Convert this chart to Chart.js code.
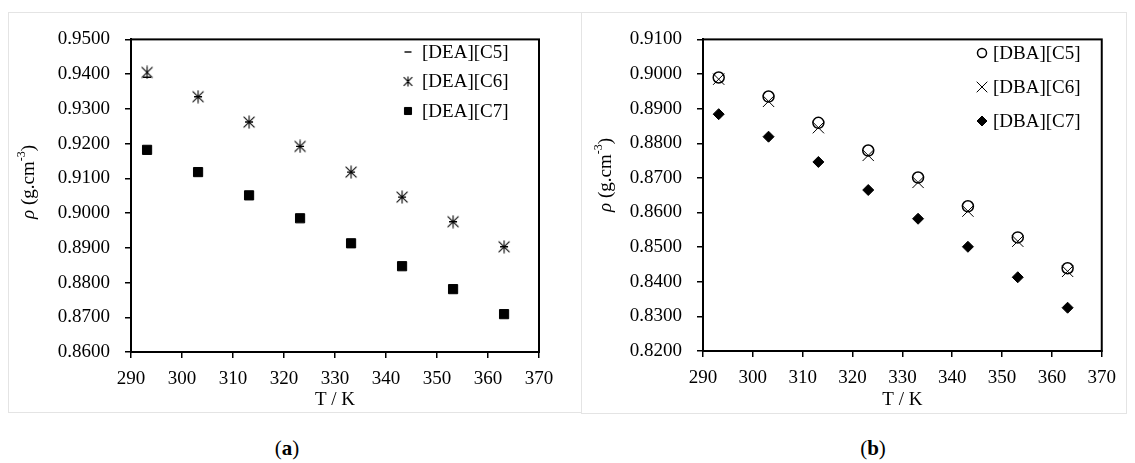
<!DOCTYPE html>
<html>
<head>
<meta charset="utf-8">
<title>Densidad vs T</title>
<script src="https://cdn.jsdelivr.net/npm/chart.js@4.4.1/dist/chart.umd.min.js"></script>
<style>
    html, body { margin: 0; padding: 0; background: #fff; }
    body { width: 1135px; height: 463px; position: relative; overflow: hidden; font-family: "Liberation Serif", serif; }
    .panel { position: absolute; border: 1px solid #e4e4e4; }
    #panelA { left: 8px; top: 12px; width: 572px; height: 399px; }
    #panelB { left: 581px; top: 12px; width: 544px; height: 400px; }
    .panel canvas { display: block; }
    .caption { position: absolute; top: 436px; width: 60px; text-align: center; font-size: 21px; color: #000; }
</style>
</head>
<body>
<div class="panel" id="panelA"><canvas id="chartA" width="572" height="399"></canvas></div>
<div class="panel" id="panelB"><canvas id="chartB" width="544" height="400"></canvas></div>
<div class="caption" style="left:257px">(<b>a</b>)</div>
<div class="caption" style="left:843px">(<b>b</b>)</div>

<script>
// Datos (T en K, densidad en g/cm3)
const TEMPS = [293.15, 303.15, 313.15, 323.15, 333.15, 343.15, 353.15, 363.15];
const X_TICKS = [290, 300, 310, 320, 330, 340, 350, 360, 370];
const Y_TICKS_A = [0.86, 0.87, 0.88, 0.89, 0.90, 0.91, 0.92, 0.93, 0.94, 0.95];
const Y_TICKS_B = [0.82, 0.83, 0.84, 0.85, 0.86, 0.87, 0.88, 0.89, 0.90, 0.91];

const LABELS_A = ['[DEA][C5]', '[DEA][C6]', '[DEA][C7]'];
const DEA_C5 = [0.9391, 0.9335, 0.9262, 0.9192, 0.9118, 0.9046, 0.8975, 0.8903];
const DEA_C6 = [0.9405, 0.9335, 0.9262, 0.9192, 0.9118, 0.9046, 0.8975, 0.8903];
const DEA_C7 = [0.9182, 0.9118, 0.9051, 0.8985, 0.8913, 0.8847, 0.8781, 0.8709];

const LABELS_B = ['[DBA][C5]', '[DBA][C6]', '[DBA][C7]'];
const DBA_C5 = [0.8990, 0.8935, 0.8859, 0.8779, 0.8701, 0.8618, 0.8528, 0.8439];
const DBA_C6 = [0.8985, 0.8921, 0.8845, 0.8765, 0.8687, 0.8604, 0.8517, 0.8430];
const DBA_C7 = [0.8884, 0.8819, 0.8746, 0.8665, 0.8582, 0.8501, 0.8413, 0.8325];

const FONT = '"Liberation Serif", serif';

// marcador tipo Excel: X con barra vertical
function makeAsterisk(size) {
    const c = document.createElement('canvas');
    c.width = size;
    c.height = size;
    const g = c.getContext('2d');
    const m = size / 2, a = size * 0.39, v = size / 2 - 0.5;
    g.strokeStyle = '#000';
    g.lineWidth = 1.1;
    g.beginPath();
    g.moveTo(m - a, m - a); g.lineTo(m + a, m + a);
    g.moveTo(m + a, m - a); g.lineTo(m - a, m + a);
    g.moveTo(m, m - v); g.lineTo(m, m + v);
    g.stroke();
    return c;
}

function toPoints(values) {
    return values.map((y, i) => ({ x: TEMPS[i], y: y }));
}

// leyenda dentro del área del gráfico
const sideLegend = {
    id: 'sideLegend',
    afterDatasetsDraw(chart, args, opts) {
        const ctx = chart.ctx;
        ctx.save();
        chart.data.datasets.forEach((ds, i) => {
            const y = opts.y + i * opts.gap;
            ctx.fillStyle = ds.pointBackgroundColor;
            ctx.strokeStyle = '#000';
            ctx.lineWidth = ds.pointBorderWidth;
            Chart.helpers.drawPoint(ctx, {
                pointStyle: ds.legendStyle || ds.pointStyle,
                radius: ds.legendRadius,
                borderWidth: ds.pointBorderWidth,
                rotation: 0
            }, opts.markerX, y);
            ctx.fillStyle = '#000';
            ctx.font = '19px ' + FONT;
            ctx.textAlign = 'left';
            ctx.textBaseline = 'middle';
            ctx.fillText(ds.label, opts.textX, y + 1);
        });
        ctx.restore();
    }
};

// títulos de ejes y marco del área
const axisTitles = {
    id: 'axisTitles',
    afterDraw(chart, args, opts) {
        const { ctx, chartArea } = chart;
        ctx.save();
        ctx.strokeStyle = '#000';
        ctx.lineWidth = 2;
        ctx.strokeRect(chartArea.left, chartArea.top, chartArea.right - chartArea.left, chartArea.bottom - chartArea.top);

        ctx.fillStyle = '#000';
        ctx.font = '19px ' + FONT;
        ctx.textAlign = 'center';
        ctx.textBaseline = 'middle';
        ctx.fillText('T / K', (chartArea.left + chartArea.right) / 2, opts.xTitleY);

        const parts = [
            { t: 'ρ', font: 'italic 19px ' + FONT, dy: 0 },
            { t: ' (g.cm', font: '19px ' + FONT, dy: 0 },
            { t: '-3', font: '12px ' + FONT, dy: -7 },
            { t: ')', font: '19px ' + FONT, dy: 0 }
        ];
        let total = 0;
        parts.forEach(p => { ctx.font = p.font; p.w = ctx.measureText(p.t).width; total += p.w; });
        ctx.translate(opts.yTitleX, opts.yTitleY);
        ctx.rotate(-Math.PI / 2);
        ctx.textAlign = 'left';
        let x = -total / 2;
        parts.forEach(p => {
            ctx.font = p.font;
            ctx.fillText(p.t, x, p.dy);
            x += p.w;
        });
        ctx.restore();
    }
};

function buildChart(canvasId, datasets, yTicks, area, legend, titles) {
    const canvas = document.getElementById(canvasId);
    const W = canvas.width, H = canvas.height;
    return new Chart(canvas, {
        type: 'scatter',
        data: { datasets: datasets },
        options: {
            responsive: false,
            animation: false,
            layout: { padding: { top: area.top, right: W - area.right, left: 0, bottom: 0 } },
            plugins: {
                legend: { display: false },
                tooltip: { enabled: false },
                sideLegend: legend,
                axisTitles: titles
            },
            scales: {
                x: {
                    type: 'linear',
                    min: X_TICKS[0],
                    max: X_TICKS[X_TICKS.length - 1],
                    afterBuildTicks: s => { s.ticks = X_TICKS.map(v => ({ value: v })); },
                    afterFit: s => { s.height = H - area.bottom; },
                    ticks: { color: '#000', font: { family: FONT, size: 19 }, padding: 10, maxRotation: 0,
                             callback: v => String(v) },
                    grid: { drawOnChartArea: false, drawTicks: true, tickLength: 6, color: '#000', lineWidth: 1.5 },
                    border: { display: true, color: '#000', width: 2 }
                },
                y: {
                    min: yTicks[0],
                    max: yTicks[yTicks.length - 1],
                    afterBuildTicks: s => { s.ticks = yTicks.map(v => ({ value: v })); },
                    afterFit: s => { s.width = area.left; },
                    ticks: { color: '#000', font: { family: FONT, size: 19 }, padding: 15,
                             callback: v => v.toFixed(4) },
                    grid: { drawOnChartArea: false, drawTicks: true, tickLength: 6, color: '#000', lineWidth: 1.5 },
                    border: { display: true, color: '#000', width: 2 }
                }
            }
        },
        plugins: [sideLegend, axisTitles]
    });
}

const asterisk = makeAsterisk(14);
const asteriskSmall = makeAsterisk(11);

buildChart('chartA', [
    { label: LABELS_A[0], data: toPoints(DEA_C5), pointStyle: 'line', pointRadius: 4,
      legendRadius: 3.5, pointBorderWidth: 1.4, pointBackgroundColor: '#000', pointBorderColor: '#000' },
    { label: LABELS_A[1], data: toPoints(DEA_C6), pointStyle: asterisk, legendStyle: asteriskSmall, pointRadius: 7,
      legendRadius: 6, pointBorderWidth: 1, pointBackgroundColor: '#000', pointBorderColor: '#000' },
    { label: LABELS_A[2], data: toPoints(DEA_C7), pointStyle: 'rect', pointRadius: 6.5,
      legendRadius: 5, pointBorderWidth: 1, pointBackgroundColor: '#000', pointBorderColor: '#000' }
], Y_TICKS_A,
   { left: 122, right: 530, top: 19, bottom: 339 },
   { markerX: 399, textX: 413, y: 39, gap: 29.5 },
   { xTitleY: 387, yTitleX: 20, yTitleY: 169 });

buildChart('chartB', [
    { label: LABELS_B[0], data: toPoints(DBA_C5), pointStyle: 'circle', pointRadius: 5.5,
      legendRadius: 4.5, pointBorderWidth: 1.5, pointBackgroundColor: 'rgba(255,255,255,0)', pointBorderColor: '#000' },
    { label: LABELS_B[1], data: toPoints(DBA_C6), pointStyle: 'crossRot', pointRadius: 8,
      legendRadius: 7.5, pointBorderWidth: 1, pointBackgroundColor: '#000', pointBorderColor: '#000' },
    { label: LABELS_B[2], data: toPoints(DBA_C7), pointStyle: 'rectRot', pointRadius: 5.5,
      legendRadius: 5, pointBorderWidth: 1, pointBackgroundColor: '#000', pointBorderColor: '#000' }
], Y_TICKS_B,
   { left: 121, right: 524, top: 19, bottom: 338 },
   { markerX: 400, textX: 411, y: 40, gap: 34 },
   { xTitleY: 387, yTitleX: 24, yTitleY: 162 });
</script>
</body>
</html>
